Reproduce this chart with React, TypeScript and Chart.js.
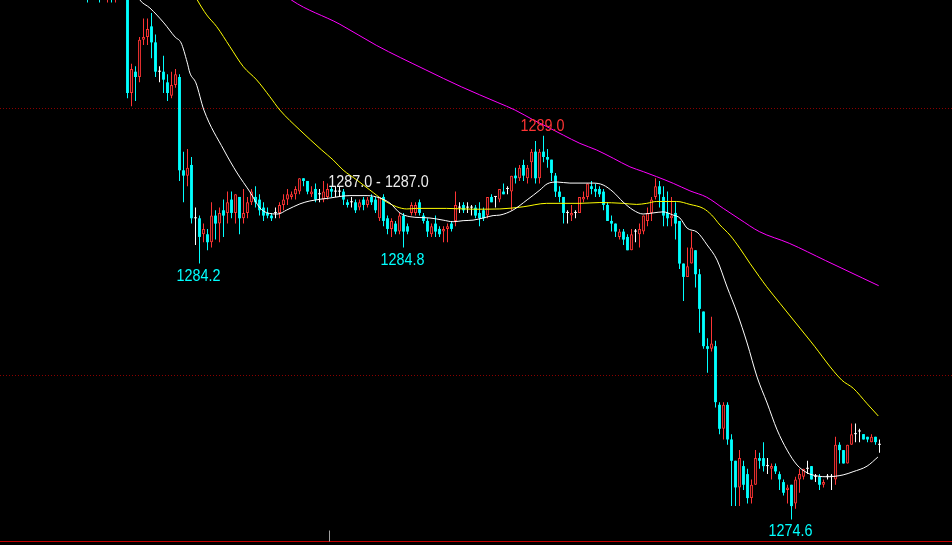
import React, { useEffect, useRef } from 'react';
import { Chart, registerables } from 'chart.js';

Chart.register(...registerables);

// ---- data ----
const FIRST_BAR = -10;

const OPEN = [
  1295.0, 1294.6, 1295.0, 1295.0, 1294.4, 1294.6, 1295.2, 1294.6, 1295.2, 1294.8,
  1295.0, 1290.6, 1291.4, 1291.2, 1292.6, 1292.7, 1293.1, 1292.5, 1291.4, 1291.4,
  1291.0, 1290.5, 1290.9, 1291.2, 1287.7, 1287.5, 1287.9, 1285.9, 1285.9, 1285.3,
  1285.3, 1285.0, 1286.0, 1285.7, 1286.2, 1286.1, 1286.6, 1286.1, 1286.7, 1285.9,
  1286.1, 1286.5, 1286.7, 1286.6, 1286.3, 1286.1, 1286.0, 1286.1, 1286.1, 1286.4,
  1286.6, 1286.7, 1286.8, 1286.9, 1287.4, 1287.3, 1286.8, 1287.0, 1286.8, 1286.6,
  1286.7, 1287.0, 1286.9, 1286.9, 1286.9, 1286.5, 1286.5, 1286.5, 1286.3, 1286.6,
  1286.4, 1286.7, 1286.6, 1285.9, 1286.7, 1285.9, 1285.5, 1285.7, 1285.4, 1286.0,
  1285.6, 1286.1, 1286.1, 1286.5, 1286.0, 1285.8, 1285.3, 1285.7, 1285.5, 1285.4,
  1285.5, 1285.7, 1285.8, 1286.3, 1286.4, 1286.3, 1286.3, 1286.3, 1286.1, 1286.2,
  1286.0, 1286.7, 1286.7, 1286.6, 1286.9, 1287.0, 1286.9, 1287.5, 1287.4, 1287.9,
  1287.4, 1288.0, 1288.4, 1287.4, 1288.4, 1288.2, 1288.1, 1287.5, 1286.9, 1286.7,
  1286.1, 1286.0, 1286.1, 1286.1, 1286.6, 1286.7, 1287.1, 1287.0, 1287.0, 1286.9,
  1286.4, 1285.8, 1285.7, 1285.2, 1285.4, 1285.2, 1284.7, 1285.4, 1285.3, 1285.4,
  1285.8, 1286.1, 1286.7, 1287.1, 1286.7, 1286.1, 1285.9, 1286.1, 1285.8, 1284.2,
  1283.7, 1284.2, 1284.7, 1283.8, 1282.4, 1281.1, 1281.0, 1281.1, 1278.9, 1278.0,
  1278.9, 1277.6, 1276.8, 1275.8, 1276.6, 1276.3, 1275.4, 1275.9, 1276.9, 1276.9,
  1276.6, 1276.5, 1276.6, 1276.3, 1276.0, 1275.7, 1275.9, 1275.2, 1276.1, 1276.2,
  1276.5, 1276.6, 1276.2, 1276.2, 1275.9, 1276.2, 1276.2, 1276.1, 1277.4, 1277.2,
  1276.7, 1277.4, 1277.8, 1277.9, 1277.8, 1277.7, 1277.5, 1277.7, 1277.4,
];

const HIGH = [
  1295.4, 1295.2, 1295.6, 1295.4, 1295.2, 1295.4, 1295.6, 1295.4, 1295.6, 1295.2,
  1295.2, 1291.7, 1291.6, 1292.7, 1293.4, 1293.4, 1293.6, 1292.8, 1291.6, 1292.0,
  1291.3, 1291.4, 1291.5, 1291.3, 1288.4, 1288.5, 1288.2, 1286.3, 1286.0, 1285.7,
  1285.5, 1286.5, 1286.2, 1286.3, 1286.6, 1286.9, 1286.9, 1286.8, 1286.7, 1287.0,
  1286.7, 1287.0, 1287.1, 1286.8, 1286.5, 1286.3, 1286.1, 1286.3, 1286.5, 1286.8,
  1287.0, 1286.9, 1287.1, 1287.4, 1287.4, 1287.3, 1287.1, 1287.2, 1287.0, 1287.3,
  1287.2, 1287.1, 1287.1, 1287.1, 1287.0, 1286.6, 1286.7, 1286.6, 1286.6, 1286.7,
  1286.7, 1286.8, 1286.7, 1286.7, 1286.8, 1286.0, 1285.9, 1285.8, 1286.1, 1286.1,
  1285.7, 1286.5, 1286.5, 1286.6, 1286.1, 1285.9, 1285.7, 1286.0, 1285.6, 1285.6,
  1285.7, 1285.8, 1286.9, 1286.5, 1286.5, 1286.5, 1286.4, 1286.4, 1286.5, 1286.3,
  1286.7, 1286.8, 1286.7, 1287.0, 1287.2, 1287.1, 1287.5, 1287.8, 1287.9, 1288.1,
  1287.9, 1288.5, 1288.8, 1288.5, 1289.0, 1288.5, 1288.1, 1287.6, 1287.1, 1286.7,
  1286.2, 1286.4, 1286.2, 1286.7, 1286.9, 1287.2, 1287.3, 1287.2, 1287.1, 1287.0,
  1286.5, 1286.0, 1285.7, 1285.5, 1285.5, 1285.3, 1285.5, 1285.5, 1285.7, 1286.0,
  1286.3, 1286.7, 1287.4, 1287.3, 1287.1, 1286.9, 1286.7, 1286.5, 1285.8, 1284.2,
  1284.8, 1285.4, 1284.7, 1284.0, 1282.4, 1281.4, 1282.2, 1281.3, 1279.0, 1279.0,
  1279.0, 1277.8, 1276.8, 1277.2, 1276.8, 1276.5, 1276.1, 1277.2, 1277.1, 1277.5,
  1276.9, 1276.7, 1276.7, 1276.4, 1276.1, 1275.9, 1275.9, 1276.2, 1276.5, 1276.5,
  1276.8, 1276.6, 1276.3, 1276.3, 1276.1, 1276.3, 1276.3, 1277.7, 1277.5, 1277.2,
  1277.4, 1278.2, 1278.2, 1278.0, 1277.8, 1277.7, 1277.8, 1277.7, 1277.6,
];

const LOW = [
  1294.0, 1294.3, 1294.4, 1294.0, 1294.2, 1294.0, 1294.0, 1294.0, 1294.4, 1294.4,
  1290.4, 1290.1, 1290.3, 1291.0, 1292.4, 1292.4, 1291.9, 1291.2, 1291.0, 1290.6,
  1290.3, 1290.4, 1290.8, 1287.3, 1286.5, 1287.1, 1285.7, 1284.9, 1284.2, 1285.0,
  1284.7, 1284.8, 1285.1, 1285.0, 1285.2, 1285.7, 1285.9, 1285.7, 1285.3, 1285.7,
  1285.9, 1286.4, 1286.3, 1286.0, 1285.8, 1285.9, 1285.8, 1285.9, 1285.9, 1286.2,
  1286.4, 1286.6, 1286.6, 1286.8, 1287.1, 1286.8, 1286.7, 1286.5, 1286.5, 1286.5,
  1286.6, 1286.7, 1286.7, 1286.7, 1286.4, 1286.3, 1286.3, 1286.1, 1286.2, 1286.2,
  1286.3, 1286.4, 1286.1, 1285.8, 1285.6, 1285.3, 1285.2, 1285.3, 1285.3, 1284.8,
  1285.3, 1286.0, 1286.0, 1286.0, 1285.7, 1285.2, 1285.2, 1285.2, 1285.2, 1285.0,
  1285.0, 1285.4, 1285.6, 1286.1, 1286.1, 1286.1, 1286.0, 1285.9, 1285.6, 1285.8,
  1285.9, 1286.5, 1286.3, 1286.5, 1286.8, 1286.8, 1286.2, 1287.2, 1287.3, 1287.3,
  1287.2, 1287.4, 1287.2, 1287.2, 1288.0, 1287.8, 1287.3, 1286.7, 1286.5, 1285.7,
  1285.7, 1285.8, 1285.9, 1286.1, 1286.5, 1286.6, 1286.8, 1286.7, 1286.7, 1286.2,
  1285.8, 1285.4, 1285.2, 1285.1, 1284.9, 1284.7, 1284.7, 1285.0, 1284.8, 1285.3,
  1285.6, 1285.8, 1286.6, 1286.3, 1285.6, 1285.6, 1285.6, 1285.1, 1284.0, 1282.8,
  1283.7, 1284.2, 1283.3, 1281.6, 1281.0, 1280.1, 1280.9, 1278.8, 1277.8, 1277.6,
  1277.4, 1275.1, 1275.1, 1275.1, 1275.7, 1275.2, 1275.2, 1275.9, 1276.5, 1276.4,
  1276.3, 1276.1, 1276.3, 1275.7, 1275.5, 1275.2, 1274.6, 1275.0, 1275.6, 1276.1,
  1276.3, 1276.1, 1276.0, 1275.7, 1275.8, 1276.1, 1275.7, 1275.9, 1276.7, 1276.7,
  1276.7, 1277.4, 1277.5, 1277.5, 1277.6, 1277.5, 1277.5, 1277.4, 1277.1,
];

const CLOSE = [
  1294.4, 1295.0, 1294.8, 1294.4, 1295.0, 1295.2, 1294.6, 1295.2, 1294.8, 1295.0,
  1290.6, 1291.5, 1291.2, 1292.6, 1292.7, 1293.0, 1292.5, 1291.4, 1291.4, 1291.1,
  1290.6, 1290.9, 1291.3, 1287.7, 1287.5, 1287.8, 1285.9, 1285.9, 1285.2, 1285.5,
  1285.0, 1286.0, 1285.7, 1286.1, 1286.0, 1286.5, 1286.1, 1286.8, 1285.9, 1286.1,
  1286.5, 1286.9, 1286.5, 1286.2, 1286.0, 1286.0, 1285.9, 1286.1, 1286.4, 1286.6,
  1286.8, 1286.8, 1287.0, 1287.4, 1287.3, 1286.9, 1286.9, 1286.6, 1286.8, 1286.9,
  1287.0, 1286.9, 1286.9, 1286.9, 1286.6, 1286.4, 1286.5, 1286.2, 1286.5, 1286.4,
  1286.6, 1286.5, 1286.2, 1286.7, 1285.8, 1285.5, 1285.8, 1285.4, 1286.0, 1285.4,
  1285.4, 1286.4, 1286.4, 1286.1, 1285.8, 1285.4, 1285.6, 1285.4, 1285.3, 1285.5,
  1285.6, 1285.5, 1286.4, 1286.3, 1286.2, 1286.3, 1286.3, 1286.0, 1285.9, 1285.9,
  1286.7, 1286.5, 1286.7, 1287.0, 1286.8, 1287.0, 1287.5, 1287.4, 1287.8, 1287.5,
  1287.8, 1288.4, 1287.4, 1288.4, 1288.2, 1288.1, 1287.6, 1286.9, 1286.7, 1286.1,
  1286.1, 1286.1, 1286.1, 1286.7, 1286.7, 1287.2, 1287.0, 1286.9, 1286.8, 1286.4,
  1285.8, 1285.7, 1285.4, 1285.4, 1285.1, 1284.7, 1285.3, 1285.4, 1285.5, 1286.0,
  1286.1, 1286.6, 1287.1, 1286.8, 1286.0, 1285.9, 1286.0, 1285.7, 1284.2, 1283.7,
  1284.1, 1284.8, 1283.8, 1282.5, 1281.1, 1281.0, 1281.2, 1279.0, 1278.0, 1278.9,
  1277.6, 1276.8, 1275.8, 1276.9, 1275.9, 1275.4, 1275.9, 1276.9, 1276.8, 1276.6,
  1276.6, 1276.6, 1276.4, 1276.1, 1275.6, 1275.8, 1275.1, 1276.1, 1276.3, 1276.5,
  1276.5, 1276.1, 1276.2, 1275.9, 1276.0, 1276.2, 1276.2, 1277.4, 1277.2, 1276.7,
  1277.4, 1277.8, 1277.8, 1277.9, 1277.6, 1277.6, 1277.7, 1277.5, 1277.4,
];

const BAR_NUMBERS = OPEN.map((_, i) => FIRST_BAR + i);

// moving-average lines (bar number, price)
const MA_WHITE_X = [1, 3.1, 5.6, 9.1, 11.9, 13.4, 14.9, 15.6, 17.1, 19.1, 24.1, 27.4, 30.6, 33.1, 34.8, 37.6, 39.8, 43.1, 45.6, 50.6, 55.6, 59.9, 63.1, 65.6, 68.1, 70.6, 75.6, 78.9, 81.4, 83.9, 86.4, 88.9, 91.4, 93.1, 96.4, 99.9, 103.1, 104.9, 107.4, 110.6, 116.4, 118.9, 121.4, 123.9, 126.4, 128.9, 131.4, 133.9, 136.4, 138.1, 139.9, 142.4, 144.9, 147.4, 149.9, 152.4, 154.9, 157.4, 159.9, 162.4, 164.9, 167.4, 169.9, 172.4, 174.9, 178.9, 181.4, 184.9, 187.6];
const MA_WHITE_Y = [1294.7, 1294.09, 1293.79, 1293.23, 1292.7, 1292.48, 1291.76, 1291.35, 1290.98, 1289.96, 1288.46, 1287.6, 1286.89, 1286.29, 1286.11, 1286.06, 1286.21, 1286.44, 1286.55, 1286.66, 1286.75, 1286.75, 1286.66, 1286.47, 1286.1, 1285.96, 1285.91, 1285.83, 1285.77, 1285.81, 1285.83, 1285.91, 1286.0, 1286.02, 1286.21, 1286.59, 1286.96, 1287.19, 1287.26, 1287.22, 1287.22, 1287.15, 1286.89, 1286.51, 1286.21, 1286.06, 1286.1, 1286.14, 1286.02, 1285.91, 1285.53, 1285.38, 1284.9, 1284.33, 1283.32, 1282.35, 1281.22, 1279.94, 1278.97, 1277.96, 1277.2, 1276.64, 1276.35, 1276.23, 1276.2, 1276.27, 1276.39, 1276.6, 1276.94];

const MA_YELLOW_X = [15, 17.45, 19.8, 22.3, 25.6, 28.95, 32.3, 35.6, 38.1, 43.1, 48.55, 51.4, 53.9, 57.3, 60.6, 63.9, 67.3, 69.8, 72.3, 79.8, 86.4, 93.1, 98.9, 104.8, 113.1, 118.1, 123.9, 127.3, 129.8, 132.3, 137.3, 140.6, 143.95, 146.05, 148.1, 150.6, 153.1, 155.6, 157.95, 159.8, 163.1, 170.9, 178.55, 181.45, 184.8, 187.7];
const MA_YELLOW_Y = [1294.8, 1294.09, 1293.53, 1293.09, 1292.34, 1291.59, 1291.09, 1290.46, 1289.96, 1289.21, 1288.46, 1288.09, 1287.71, 1287.34, 1286.96, 1286.59, 1286.33, 1286.25, 1286.27, 1286.27, 1286.24, 1286.25, 1286.33, 1286.46, 1286.46, 1286.49, 1286.46, 1286.42, 1286.46, 1286.53, 1286.53, 1286.42, 1286.27, 1286.02, 1285.65, 1285.27, 1284.77, 1284.21, 1283.71, 1283.33, 1282.71, 1281.26, 1279.83, 1279.52, 1278.96, 1278.48];

const MA_MAGENTA_X = [37, 40.97, 53.1, 62.2, 74.4, 83.5, 92.6, 96.9, 101.45, 104.8, 108.95, 113.1, 117.3, 121.45, 125.6, 128.95, 132.3, 136.45, 140.6, 144.8, 148.95, 153.1, 157.95, 165.45, 174.55, 183.7, 187.8];
const MA_MAGENTA_Y = [1294.6, 1294.09, 1293.18, 1292.39, 1291.48, 1290.83, 1290.24, 1289.96, 1289.59, 1289.34, 1289.02, 1288.71, 1288.46, 1288.15, 1287.83, 1287.65, 1287.46, 1287.21, 1286.93, 1286.69, 1286.27, 1285.86, 1285.4, 1284.96, 1284.31, 1283.66, 1283.37];

const GRID_PRICES = [1280, 1290];
const Y_MIN = 1273.64;
const Y_MAX = 1294.09;
const X_MIN = -31.875;
const X_MAX = 206.125;
const BASE_LINE_PRICE = 1273.79;
const SESSION_BREAK_BAR = 50.5;

const MARK_BARS = [18, 69, 104, 166, 63];
const MARK_PRICES = [1284.2, 1284.8, 1289.0, 1274.6, 1287.0];
const MARK_TEXTS = ['1284.2', '1284.8', '1289.0', '1274.6', '1287.0 - 1287.0'];
const MARK_KINDS = ['low', 'low', 'high', 'low', 'range'];

// ---- styles ----
const UP = '#ff3434';
const DOWN = '#00ffff';
const FLAT = '#ffffff';

const candleColor = (i: number) =>
  CLOSE[i] > OPEN[i] ? UP : CLOSE[i] < OPEN[i] ? DOWN : FLAT;

const gridPlugin = {
  id: 'dottedGrid',
  beforeDatasetsDraw(chart: any) {
    const { ctx, chartArea, scales } = chart;
    const y = scales.y;
    ctx.save();
    ctx.strokeStyle = '#8a0000';
    ctx.lineWidth = 1;
    ctx.setLineDash([1, 2]);
    GRID_PRICES.forEach((p) => {
      const py = Math.floor(y.getPixelForValue(p)) + 0.5;
      ctx.beginPath();
      ctx.moveTo(chartArea.left, py);
      ctx.lineTo(chartArea.right, py);
      ctx.stroke();
    });
    ctx.restore();
  },
};

const overlayPlugin = {
  id: 'overlay',
  afterDatasetsDraw(chart: any) {
    const { ctx, chartArea, scales } = chart;
    const x = scales.x;
    const y = scales.y;
    ctx.save();
    // bottom frame line
    const by = Math.floor(y.getPixelForValue(BASE_LINE_PRICE)) + 0.5;
    ctx.strokeStyle = '#c40000';
    ctx.lineWidth = 1;
    ctx.beginPath();
    ctx.moveTo(chartArea.left, by);
    ctx.lineTo(chartArea.right, by);
    ctx.stroke();
    // session separator tick
    const sx = Math.floor(x.getPixelForValue(SESSION_BREAK_BAR)) + 0.5;
    ctx.strokeStyle = '#a0a0a0';
    ctx.beginPath();
    ctx.moveTo(sx, by - 11);
    ctx.lineTo(sx, by);
    ctx.stroke();
    // labels
    ctx.font = '16.5px "Liberation Sans", Arial, sans-serif';
    ctx.textAlign = 'center';
    ctx.textBaseline = 'alphabetic';
    MARK_TEXTS.forEach((text, i) => {
      const kind = MARK_KINDS[i];
      const px = x.getPixelForValue(MARK_BARS[i]) - 1;
      const py = y.getPixelForValue(MARK_PRICES[i]);
      let base = py;
      let color = DOWN;
      if (kind === 'low') base = py + 17;
      else if (kind === 'high') { base = py - 4.5; color = UP; }
      else { base = py - 2.3; color = '#ececec'; }
      ctx.save();
      ctx.translate(px, base);
      ctx.scale(0.87, 1);
      ctx.fillStyle = color;
      ctx.fillText(text, 0, 0);
      ctx.restore();
    });
    ctx.restore();
  },
};

export default function App() {
  const ref = useRef<HTMLCanvasElement | null>(null);

  useEffect(() => {
    document.body.style.margin = '0';
    document.body.style.background = '#000';
    const canvas = ref.current;
    if (!canvas) return;

    const lineDs = (xs: number[], ys: number[], color: string, label: string) => ({
      type: 'line' as const,
      label,
      data: xs.map((v, i) => ({ x: v, y: ys[i] })),
      borderColor: color,
      borderWidth: 1,
      pointRadius: 0,
      cubicInterpolationMode: 'monotone' as const,
      fill: false,
      order: 0,
    });

    const chart = new Chart(canvas, {
      type: 'bar',
      data: {
        datasets: [
          lineDs(MA_WHITE_X, MA_WHITE_Y, '#ffffff', 'MA1'),
          lineDs(MA_YELLOW_X, MA_YELLOW_Y, '#ffff00', 'MA2'),
          lineDs(MA_MAGENTA_X, MA_MAGENTA_Y, '#ff00ff', 'MA3'),
          {
            type: 'bar',
            label: 'body',
            data: BAR_NUMBERS.map((b, i) => ({ x: b, y: [OPEN[i], CLOSE[i]] })),
            backgroundColor: (c: any) => (CLOSE[c.dataIndex] > OPEN[c.dataIndex] ? '#000000' : candleColor(c.dataIndex)),
            borderColor: (c: any) => candleColor(c.dataIndex),
            borderWidth: (c: any) => (CLOSE[c.dataIndex] > OPEN[c.dataIndex] ? 1 : 0),
            borderSkipped: false,
            grouped: false,
            maxBarThickness: 3,
            minBarLength: 1,
            inflateAmount: 0,
            order: 1,
          } as any,
          {
            type: 'bar',
            label: 'wick',
            data: BAR_NUMBERS.map((b, i) => ({ x: b, y: [LOW[i], HIGH[i]] })),
            backgroundColor: (c: any) => candleColor(c.dataIndex),
            borderWidth: 0,
            borderSkipped: false,
            grouped: false,
            maxBarThickness: 1,
            minBarLength: 1,
            inflateAmount: 0,
            order: 2,
          } as any,
        ],
      },
      options: {
        responsive: false,
        animation: false,
        devicePixelRatio: 1,
        events: [],
        layout: { padding: 0 },
        plugins: { legend: { display: false }, tooltip: { enabled: false } },
        scales: {
          x: { type: 'linear', min: X_MIN, max: X_MAX, display: false, offset: false },
          y: { type: 'linear', min: Y_MIN, max: Y_MAX, display: false },
        },
      } as any,
      plugins: [gridPlugin, overlayPlugin],
    });

    return () => chart.destroy();
  }, []);

  return (
    <div style={{ position: 'fixed', left: 0, top: 0, width: 952, height: 545, background: '#000' }}>
      <canvas ref={ref} width={952} height={545} style={{ display: 'block', width: 952, height: 545 }} />
    </div>
  );
}
